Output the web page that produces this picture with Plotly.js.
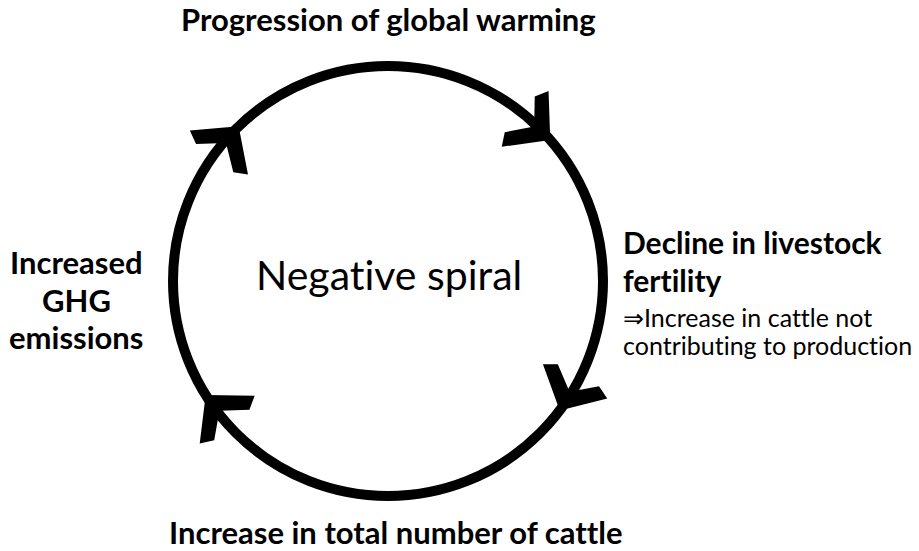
<!DOCTYPE html>
<html>
<head>
<meta charset="utf-8">
<script src="https://cdn.plot.ly/plotly-3.0.1.min.js"></script>
<style>html,body{margin:0;padding:0;background:#fff}#chart{width:919px;height:551px}
svg text{font-variant-ligatures:none;font-feature-settings:"liga" 0,"clig" 0;}</style>
</head>
<body>
<div id="chart"></div>
<script>
// ---- data ----
const centerLabel = "Negative spiral";
const topLabel = "Progression of global warming";
const rightLabel = ["Decline in livestock", "fertility"];
const rightSubLabel = ["⇒Increase in cattle not", "contributing to production"];
const bottomLabel = "Increase in total number of cattle";
const leftLabel = ["Increased", "GHG", "emissions"];
const arrowAngles = [134, 41, -37, -148]; // degrees around the cycle, clockwise flow

// ---- geometry ----
const W = 919, H = 551;
const cx = 388, cy = 281, r = 215;
const FONT = "Lato, 'Open Sans', sans-serif";

function arrowPath(theta) {
  const t = theta * Math.PI / 180;
  const J = [cx + r * Math.cos(t), cy - r * Math.sin(t)];
  const beta = Math.atan2(-Math.cos(t), -Math.sin(t));
  const alpha = beta - 9 * Math.PI / 180;
  const h = 48 * Math.PI / 180, L = 49, w = 14, d = 21;
  const pt = (p, ang, len) => [p[0] + len * Math.cos(ang), p[1] + len * Math.sin(ang)];
  const O1 = pt(J, alpha + h, L);
  const I1 = pt(pt(O1, alpha + h - Math.PI / 2, w), alpha + h, -5);
  const O2 = pt(J, alpha - h, L);
  const I2 = pt(pt(O2, alpha - h + Math.PI / 2, w), alpha - h, -5);
  const N = pt(J, alpha, d);
  const f = p => p[0].toFixed(2) + "," + p[1].toFixed(2);
  return "M" + f(J) + " L" + f(O1) + " L" + f(I1) + " L" + f(N) + " L" + f(I2) + " L" + f(O2) + " Z";
}

const shapes = [{
  type: "circle", xref: "x", yref: "y",
  x0: cx - r, x1: cx + r, y0: cy - r, y1: cy + r,
  line: {color: "#000", width: 10}, fillcolor: "rgba(0,0,0,0)"
}];
arrowAngles.forEach(a => shapes.push({
  type: "path", xref: "x", yref: "y", path: arrowPath(a),
  fillcolor: "#000", line: {width: 0}
}));

const boldFont = size => ({family: FONT, size: size, color: "#000", weight: 700});
const annotations = [
  {x: 388, y: 19, text: "<b>" + topLabel + "</b>", xanchor: "center", font: boldFont(31)},
  {x: 396, y: 532, text: "<b>" + bottomLabel + "</b>", xanchor: "center", font: boldFont(31)},
  {x: 389, y: 274, text: centerLabel, xanchor: "center", font: {family: FONT, size: 41, color: "#000"}}
];
const rightY = [242, 280];
rightLabel.forEach((s, i) => annotations.push({x: 621, y: rightY[i], text: "<b>" + s + "</b>", xanchor: "left", font: boldFont(30)}));
const subY = [317, 345];
rightSubLabel.forEach((s, i) => annotations.push({x: 621, y: subY[i], text: s, xanchor: "left", font: {family: FONT, size: 25, color: "#000"}}));
const leftY = [262, 300, 337];
leftLabel.forEach((s, i) => annotations.push({x: 76, y: leftY[i], text: "<b>" + s + "</b>", xanchor: "center", font: boldFont(31)}));
annotations.forEach(a => { a.xref = "x"; a.yref = "y"; a.showarrow = false; a.yanchor = "middle"; });

Plotly.newPlot("chart", [], {
  width: W, height: H,
  margin: {l: 0, r: 0, t: 0, b: 0},
  paper_bgcolor: "#fff", plot_bgcolor: "#fff",
  xaxis: {range: [0, W], visible: false, fixedrange: true},
  yaxis: {range: [H, 0], visible: false, fixedrange: true},
  shapes: shapes, annotations: annotations, showlegend: false
}, {staticPlot: true});
</script>
</body>
</html>
